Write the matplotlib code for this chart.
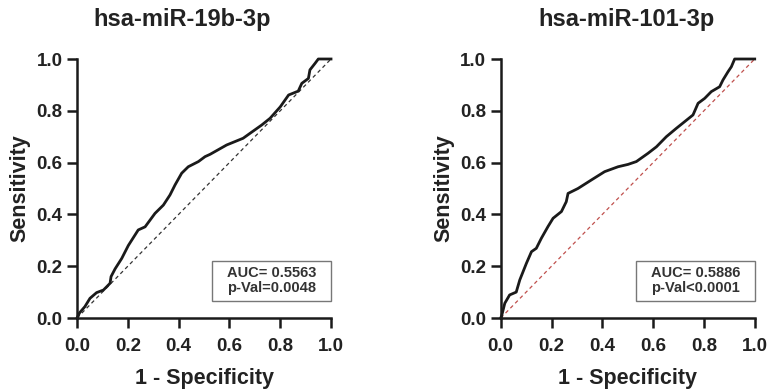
import matplotlib
matplotlib.use("Agg")
import matplotlib.pyplot as plt
from matplotlib.patches import Rectangle

plt.rcParams['font.family'] = ['Liberation Sans', 'DejaVu Sans']

# ROC curve, hsa-miR-19b-3p (1 - specificity, sensitivity)
fpr_19b = [0.0, 0.01, 0.031, 0.051, 0.077, 0.104, 0.130, 0.134, 0.15, 0.176, 0.202,
           0.241, 0.268, 0.307, 0.340, 0.366, 0.386, 0.412, 0.438, 0.478, 0.504,
           0.524, 0.589, 0.654, 0.681, 0.727, 0.76, 0.80, 0.833, 0.871, 0.885,
           0.911, 0.917, 0.937, 0.950, 1.0]
tpr_19b = [0.0, 0.02, 0.044, 0.076, 0.098, 0.108, 0.134, 0.16, 0.19, 0.23, 0.28,
           0.34, 0.352, 0.404, 0.436, 0.475, 0.514, 0.559, 0.584, 0.604, 0.623,
           0.632, 0.668, 0.694, 0.713, 0.745, 0.771, 0.815, 0.861, 0.876, 0.906,
           0.925, 0.958, 0.983, 1.0, 1.0]

# ROC curve, hsa-miR-101-3p
fpr_101 = [0.0, 0.004, 0.016, 0.035, 0.061, 0.075, 0.088, 0.101, 0.121, 0.140, 0.160,
           0.186, 0.206, 0.239, 0.258, 0.265, 0.304, 0.357, 0.409, 0.462, 0.501,
           0.534, 0.580, 0.613, 0.652, 0.691, 0.724, 0.757, 0.777, 0.803, 0.829,
           0.862, 0.875, 0.895, 0.908, 0.921, 1.0]
tpr_101 = [0.0, 0.01, 0.057, 0.089, 0.10, 0.147, 0.179, 0.211, 0.256, 0.269, 0.308,
           0.353, 0.385, 0.411, 0.449, 0.481, 0.50, 0.533, 0.565, 0.584, 0.593,
           0.604, 0.636, 0.661, 0.700, 0.732, 0.758, 0.784, 0.829, 0.848, 0.874,
           0.893, 0.919, 0.951, 0.970, 1.0, 1.0]

titles = ['hsa-miR-19b-3p', 'hsa-miR-101-3p']
title_x = [0.237, 0.816]
auc_lines = ['AUC= 0.5563', 'AUC= 0.5886']
pval_lines = ['p-Val=0.0048', 'p-Val<0.0001']
diag_colors = ['#333333', '#c0504d']
ticks = [0.0, 0.2, 0.4, 0.6, 0.8, 1.0]

fig = plt.figure(figsize=(7.68, 3.91), dpi=100)
ax1 = fig.add_axes([0.1003, 0.1867, 0.3307, 0.6624])
ax2 = fig.add_axes([0.652, 0.1867, 0.3307, 0.6624])

curves = [(fpr_19b, tpr_19b), (fpr_101, tpr_101)]
for i, ax in enumerate([ax1, ax2]):
    x, y = curves[i]
    ax.plot([0, 1], [0, 1], ls=(0, (3, 2.5)), color=diag_colors[i], lw=0.9, clip_on=False)
    ax.plot(x, y, color='#1a1a1a', lw=2, clip_on=False, zorder=3)
    ax.set_xlim(0, 1)
    ax.set_ylim(0, 1)
    ax.set_xticks(ticks)
    ax.set_yticks(ticks)
    ax.set_xticklabels(['%.1f' % t for t in ticks])
    ax.set_yticklabels(['%.1f' % t for t in ticks])
    for s in ['top', 'right']:
        ax.spines[s].set_visible(False)
    for s in ['left', 'bottom']:
        ax.spines[s].set_linewidth(1.8)
        ax.spines[s].set_color('#1a1a1a')
    ax.tick_params(width=1.8, length=7, color='#1a1a1a', labelsize=13.5)
    ax.tick_params(axis='x', pad=7.5)
    ax.tick_params(axis='y', pad=3.5)
    for lab in ax.get_xticklabels() + ax.get_yticklabels():
        lab.set_fontweight('bold')
        lab.set_color('#222222')
    fig.text(title_x[i], 0.949, titles[i], ha='center', va='center', fontsize=17,
             fontweight='bold', color='#222222')
    ax.set_xlabel('1 - Specificity', fontsize=15.5, fontweight='bold', labelpad=9, color='#222222')
    ax.set_ylabel('Sensitivity', fontsize=15.5, fontweight='bold', labelpad=4, color='#222222')
    # AUC / p-value box
    ax.add_patch(Rectangle((0.531, 0.066), 0.469, 0.155, transform=ax.transAxes,
                           fill=False, edgecolor='#777777', lw=1, clip_on=False))
    ax.text(0.767, 0.173, auc_lines[i], transform=ax.transAxes, ha='center', va='center',
            fontsize=10.5, fontweight='bold', color='#333333')
    ax.text(0.767, 0.115, pval_lines[i], transform=ax.transAxes, ha='center', va='center',
            fontsize=10.5, fontweight='bold', color='#333333')

fig.savefig('out.png', dpi=100)
